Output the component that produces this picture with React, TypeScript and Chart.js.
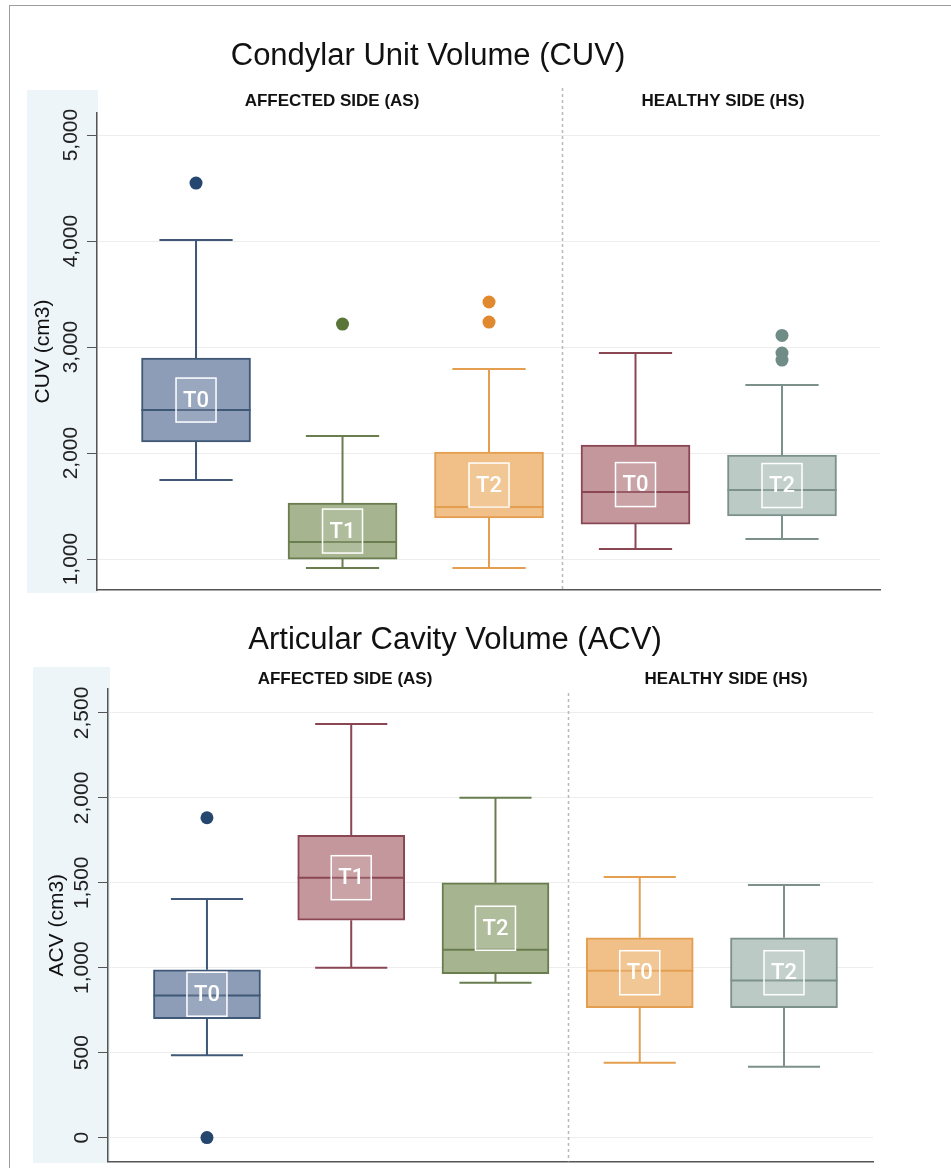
import React, { useEffect, useRef } from 'react';
import { Chart, registerables } from 'chart.js';

Chart.register(...registerables);

const FONT = '"Liberation Sans", Arial, Helvetica, sans-serif';

// ---------- Data: Condylar Unit Volume (CUV) ----------
const CUV_POSITIONS = [0, 1, 2, 3, 4];
const CUV_TIME_LABELS = ['T0', 'T1', 'T2', 'T0', 'T2'];
const CUV_Q1 = [2104, 1000, 1387, 1330, 1406];
const CUV_MEDIAN = [2406, 1160, 1490, 1632, 1651];
const CUV_Q3 = [2896, 1528, 2009, 2075, 1981];
const CUV_WHISKER_LOW = [1745, 915, 915, 1094, 1189];
const CUV_WHISKER_HIGH = [4009, 2160, 2792, 2943, 2642];
const CUV_OUTLIERS = [[4547], [3217], [3236, 3425], [], [3110, 2943, 2877]];
const CUV_TICKS = [1000, 2000, 3000, 4000, 5000];

// ---------- Data: Articular Cavity Volume (ACV) ----------
const ACV_POSITIONS = [0, 1, 2, 3, 4];
const ACV_TIME_LABELS = ['T0', 'T1', 'T2', 'T0', 'T2'];
const ACV_Q1 = [700, 1280, 965, 765, 765];
const ACV_MEDIAN = [836, 1530, 1106, 982, 924];
const ACV_Q3 = [988, 1780, 1500, 1176, 1176];
const ACV_WHISKER_LOW = [484, 1000, 912, 440, 417];
const ACV_WHISKER_HIGH = [1405, 2435, 2000, 1534, 1487];
const ACV_OUTLIERS = [[1883, 0], [], [], [], []];
const ACV_TICKS = [0, 500, 1000, 1500, 2000, 2500];

const SIDE_LABELS = ['AFFECTED SIDE (AS)', 'HEALTHY SIDE (HS)'];

// ---------- Styles ----------
const PALETTE = {
  blue: { fill: '#8d9db7', border: '#3f5878', point: '#24466f' },
  green: { fill: '#a6b48f', border: '#6a7d4e', point: '#5b7538' },
  orange: { fill: '#f1c088', border: '#e39e4f', point: '#e0892e' },
  red: { fill: '#c3979b', border: '#8a4753', point: '#8a4753' },
  gray: { fill: '#bccac5', border: '#7d918c', point: '#6f8c86' },
};
const CUV_COLORS = [PALETTE.blue, PALETTE.green, PALETTE.orange, PALETTE.red, PALETTE.gray];
const ACV_COLORS = [PALETTE.blue, PALETTE.red, PALETTE.green, PALETTE.orange, PALETTE.gray];

type Spec = {
  title: string;
  yTitle: string;
  positions: number[];
  timeLabels: string[];
  q1: number[];
  median: number[];
  q3: number[];
  lo: number[];
  hi: number[];
  outliers: number[][];
  ticks: number[];
  colors: { fill: string; border: string; point: string }[];
  xMin: number;
  xMax: number;
  yMin: number;
  yMax: number;
  width: number;
  height: number;
  padTop: number;
  padRight: number;
  padBottom: number;
  yAxisWidth: number;
  yTitlePad: number;
  barThickness: number;
  panel: { x: number; y: number; w: number; h: number };
  titleX: number;
  titleY: number;
  sideX: number[];
  sideY: number;
  sepTop: number;
};

const boxPlugin = {
  id: 'boxExtras',
  beforeDraw(chart: any, _a: any, o: any) {
    const ctx = chart.ctx;
    const s: Spec = o.spec;
    ctx.save();
    ctx.fillStyle = '#eef5f9';
    ctx.fillRect(s.panel.x, s.panel.y, s.panel.w, s.panel.h);
    ctx.restore();
  },
  beforeDatasetsDraw(chart: any, _a: any, o: any) {
    const ctx = chart.ctx;
    const s: Spec = o.spec;
    const xs = chart.scales.x;
    const sx = Math.round(xs.getPixelForValue(2.5)) + 0.5;
    ctx.save();
    ctx.strokeStyle = '#b9b9b9';
    ctx.lineWidth = 1.5;
    ctx.setLineDash([3, 3]);
    ctx.beginPath();
    ctx.moveTo(sx, s.sepTop);
    ctx.lineTo(sx, chart.chartArea.bottom);
    ctx.stroke();
    ctx.restore();
  },
  afterDatasetsDraw(chart: any, _a: any, o: any) {
    const ctx = chart.ctx;
    const s: Spec = o.spec;
    const xs = chart.scales.x;
    const ys = chart.scales.y;
    ctx.save();
    s.positions.forEach((p, i) => {
      const c = s.colors[i];
      const cx = xs.getPixelForValue(p);
      const capHalf = Math.abs(xs.getPixelForValue(p + 0.25) - cx);
      const half = s.barThickness / 2;
      const yq1 = ys.getPixelForValue(s.q1[i]);
      const yq3 = ys.getPixelForValue(s.q3[i]);
      const ylo = ys.getPixelForValue(s.lo[i]);
      const yhi = ys.getPixelForValue(s.hi[i]);
      const ymed = ys.getPixelForValue(s.median[i]);
      ctx.strokeStyle = c.border;
      ctx.lineWidth = 2;
      ctx.setLineDash([]);
      ctx.beginPath();
      // upper whisker
      ctx.moveTo(cx, yq3);
      ctx.lineTo(cx, yhi);
      ctx.moveTo(cx - capHalf, yhi);
      ctx.lineTo(cx + capHalf, yhi);
      // lower whisker
      ctx.moveTo(cx, yq1);
      ctx.lineTo(cx, ylo);
      ctx.moveTo(cx - capHalf, ylo);
      ctx.lineTo(cx + capHalf, ylo);
      // median
      ctx.moveTo(cx - half, ymed);
      ctx.lineTo(cx + half, ymed);
      ctx.stroke();

      // label box
      const cy = (yq1 + yq3) / 2;
      const lw = 40;
      const lh = 44;
      ctx.fillStyle = 'rgba(255,255,255,0.12)';
      ctx.fillRect(cx - lw / 2, cy - lh / 2, lw, lh);
      ctx.strokeStyle = '#ffffff';
      ctx.lineWidth = 1.5;
      ctx.strokeRect(cx - lw / 2, cy - lh / 2, lw, lh);
      ctx.fillStyle = '#ffffff';
      ctx.font = '500 22px Roboto, "Liberation Sans", Arial, sans-serif';
      ctx.textAlign = 'center';
      ctx.textBaseline = 'middle';
      ctx.fillText(s.timeLabels[i], cx, cy + 1);
    });
    ctx.restore();
  },
  afterDraw(chart: any, _a: any, o: any) {
    const ctx = chart.ctx;
    const s: Spec = o.spec;
    ctx.save();
    ctx.fillStyle = '#111111';
    ctx.textAlign = 'center';
    ctx.textBaseline = 'alphabetic';
    ctx.font = `31px ${FONT}`;
    ctx.fillText(s.title, s.titleX, s.titleY);
    ctx.font = `bold 17px ${FONT}`;
    SIDE_LABELS.forEach((t, i) => ctx.fillText(t, s.sideX[i], s.sideY));
    ctx.restore();
  },
};

function BoxChart({ spec }: { spec: Spec }) {
  const ref = useRef<HTMLCanvasElement | null>(null);
  useEffect(() => {
    if (!ref.current) return;
    const s = spec;
    const boxes = s.positions.map((p, i) => ({ x: p, y: [s.q1[i], s.q3[i]] }));
    const outPts: { x: number; y: number }[] = [];
    const outColors: string[] = [];
    s.outliers.forEach((arr, i) =>
      arr.forEach((v) => {
        outPts.push({ x: s.positions[i], y: v });
        outColors.push(s.colors[i].point);
      })
    );
    const chart = new Chart(ref.current, {
      type: 'bar',
      data: {
        datasets: [
          {
            type: 'bar',
            data: boxes as any,
            backgroundColor: s.colors.map((c) => c.fill),
            borderColor: s.colors.map((c) => c.border),
            borderWidth: 2,
            borderSkipped: false,
            barThickness: s.barThickness,
            order: 2,
          } as any,
          {
            type: 'scatter',
            data: outPts as any,
            backgroundColor: outColors,
            borderColor: outColors,
            borderWidth: 0,
            pointRadius: 6.5,
            clip: false,
            order: 1,
          } as any,
        ],
      },
      options: {
        responsive: false,
        animation: false,
        events: [],
        layout: { padding: { left: 0, right: s.padRight, top: s.padTop, bottom: s.padBottom } },
        plugins: {
          legend: { display: false },
          tooltip: { enabled: false },
          title: { display: false },
          boxExtras: { spec: s },
        } as any,
        scales: {
          x: {
            type: 'linear',
            offset: false,
            min: s.xMin,
            max: s.xMax,
            grid: { display: false, drawTicks: false, offset: false },
            ticks: { display: false },
            border: { display: true, color: '#555555', width: 1.5 },
            afterFit: (sc: any) => {
              sc.height = 0;
            },
          },
          y: {
            type: 'linear',
            min: s.yMin,
            max: s.yMax,
            afterBuildTicks: (sc: any) => {
              sc.ticks = s.ticks.map((v) => ({ value: v }));
            },
            afterFit: (sc: any) => {
              sc.width = s.yAxisWidth;
            },
            grid: { color: '#ededed', lineWidth: 1, tickColor: '#555555', tickLength: 10, drawTicks: true },
            border: { display: true, color: '#555555', width: 1.5 },
            ticks: {
              minRotation: 90,
              maxRotation: 90,
              crossAlign: 'center',
              padding: -10,
              color: '#222222',
              font: { family: FONT, size: 21 },
              callback: (v: any) => Number(v).toLocaleString('en-US'),
            },
            title: {
              display: true,
              text: s.yTitle,
              color: '#111111',
              font: { family: FONT, size: 21 },
              padding: { top: s.yTitlePad, bottom: 0 },
            },
          },
        } as any,
      },
      plugins: [boxPlugin as any],
    });
    return () => chart.destroy();
  }, [spec]);
  return <canvas ref={ref} width={spec.width} height={spec.height} style={{ display: 'block' }} />;
}

const CUV_SPEC: Spec = {
  title: 'Condylar Unit Volume (CUV)',
  yTitle: 'CUV (cm3)',
  positions: CUV_POSITIONS,
  timeLabels: CUV_TIME_LABELS,
  q1: CUV_Q1,
  median: CUV_MEDIAN,
  q3: CUV_Q3,
  lo: CUV_WHISKER_LOW,
  hi: CUV_WHISKER_HIGH,
  outliers: CUV_OUTLIERS,
  ticks: CUV_TICKS,
  colors: CUV_COLORS,
  xMin: -0.676,
  xMax: 4.669,
  yMin: 708,
  yMax: 5208,
  width: 951,
  height: 600,
  padTop: 113,
  padRight: 71,
  padBottom: 10,
  yAxisWidth: 97,
  yTitlePad: 31,
  barThickness: 109,
  panel: { x: 27, y: 90, w: 71, h: 503 },
  titleX: 428,
  titleY: 65,
  sideX: [332, 723],
  sideY: 106,
  sepTop: 88,
};

const ACV_SPEC: Spec = {
  title: 'Articular Cavity Volume (ACV)',
  yTitle: 'ACV (cm3)',
  positions: ACV_POSITIONS,
  timeLabels: ACV_TIME_LABELS,
  q1: ACV_Q1,
  median: ACV_MEDIAN,
  q3: ACV_Q3,
  lo: ACV_WHISKER_LOW,
  hi: ACV_WHISKER_HIGH,
  outliers: ACV_OUTLIERS,
  ticks: ACV_TICKS,
  colors: ACV_COLORS,
  xMin: -0.686,
  xMax: 4.617,
  yMin: -141,
  yMax: 2641,
  width: 951,
  height: 568,
  padTop: 89,
  padRight: 78,
  padBottom: 5,
  yAxisWidth: 108,
  yTitlePad: 45,
  barThickness: 107,
  panel: { x: 33, y: 67, w: 77, h: 496 },
  titleX: 455,
  titleY: 49,
  sideX: [345, 726],
  sideY: 84,
  sepTop: 93,
};

export default function App() {
  return (
    <div
      style={{
        position: 'absolute',
        left: 0,
        top: 0,
        width: 951,
        height: 1168,
        overflow: 'hidden',
        background: '#ffffff',
      }}
    >
      <div style={{ position: 'absolute', left: 0, top: 0 }}>
        <BoxChart spec={CUV_SPEC} />
      </div>
      <div style={{ position: 'absolute', left: 0, top: 600 }}>
        <BoxChart spec={ACV_SPEC} />
      </div>
      <div
        style={{
          position: 'absolute',
          left: 9,
          top: 5,
          width: 1000,
          height: 1300,
          borderLeft: '1.5px solid #9c9c9c',
          borderTop: '1.5px solid #9c9c9c',
          pointerEvents: 'none',
        }}
      />
    </div>
  );
}
